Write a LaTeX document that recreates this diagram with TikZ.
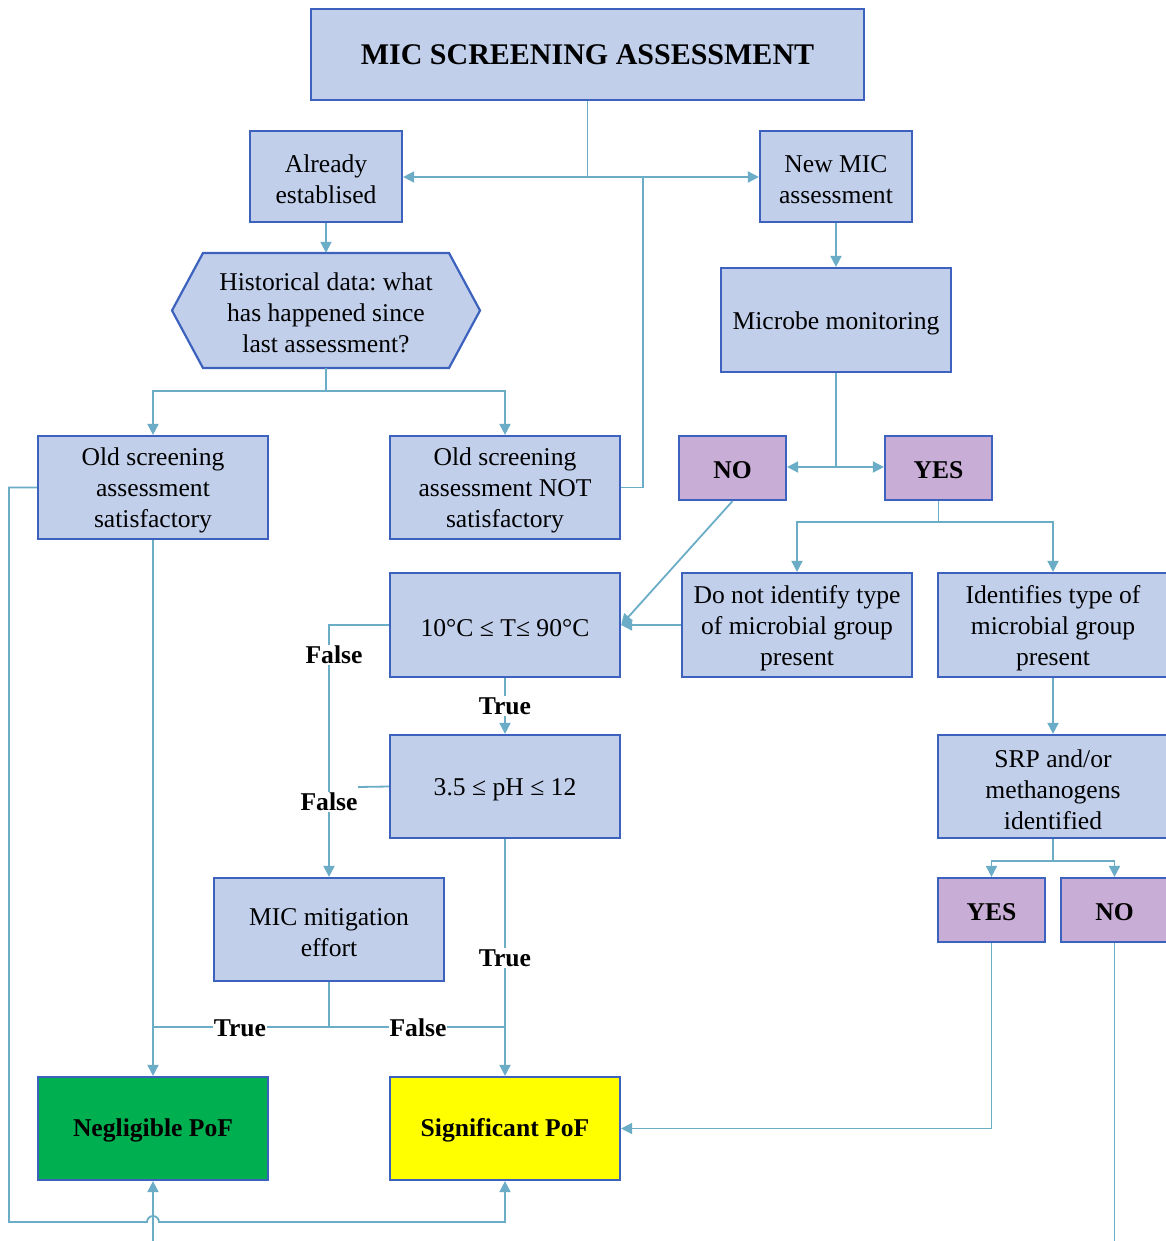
\documentclass[tikz,border=0pt]{standalone}
\usepackage{fontspec}
\setmainfont{Liberation Serif}
\frenchspacing
\usetikzlibrary{arrows.meta,calc}
\definecolor{boxfill}{HTML}{C1CFEB}
\definecolor{boxline}{HTML}{3C62BE}
\definecolor{wire}{HTML}{6BADC7}
\definecolor{choice}{HTML}{C8AED6}
\definecolor{lowpof}{HTML}{00B050}
\definecolor{highpof}{HTML}{FFFF00}
\tikzset{
  txt/.style={font=\fontsize{25.6}{31}\selectfont},
  btxt/.style={font=\bfseries\fontsize{25.6}{31}\selectfont},
  boxtext/.style={align=center, inner sep=0pt, yshift=-3pt, txt},
  boldtext/.style={align=center, inner sep=0pt, yshift=-2pt, btxt},
  box/.style={draw=boxline, fill=boxfill, line width=2.2pt, inner sep=0pt,
    minimum width=230pt, minimum height=103pt},
  says/.style={label={[boxtext]center:{#1}}},
  shouts/.style={label={[boldtext]center:{#1}}},
  choicebox/.style={box, fill=choice, minimum width=107pt, minimum height=64pt},
  wireline/.style={draw=wire, line width=1.8pt},
  arr/.style={wireline, -{Triangle[length=11pt,width=11pt]}},
  tag/.style={fill=white, inner sep=1pt, btxt},
}
\begin{document}
\begin{tikzpicture}[x=1pt,y=-1pt]
\clip (0,0) rectangle (1166,1241);
\fill[white] (0,0) rectangle (1166,1241);

% title
\node[box, minimum width=553pt, minimum height=91pt, align=center,
  font=\bfseries\fontsize{30}{36}\selectfont] (title) at (587.5,54.5) {MIC SCREENING ASSESSMENT};

% first branch
\node[box, minimum width=152pt, minimum height=91pt, says={Already\\establised}] (already) at (326,176.5) {};
\node[box, minimum width=152pt, minimum height=91pt, says={New MIC\\assessment}] (newmic) at (836,176.5) {};

% hexagon for the historical-data question
\fill[boxfill] (172,310.5) -- (203,253) -- (449,253) -- (480,310.5) -- (449,368) -- (203,368) -- cycle;
\draw[boxline, line width=2.2pt, line join=miter] (172,310.5) -- (203,253) -- (449,253) -- (480,310.5) -- (449,368) -- (203,368) -- cycle;
\node[inner sep=0pt, minimum width=308pt, minimum height=115pt,
  label={[boxtext, yshift=1pt]center:{Historical data: what\\has happened since\\last assessment?}}]
  (hist) at (326,310.5) {};

% process boxes
\node[box, says={Old screening\\assessment\\satisfactory}] (oldsat) at (153,487.5) {};
\node[box, says={Old screening\\assessment NOT\\satisfactory}] (oldnot) at (505,487.5) {};
\node[box, minimum height=104pt, says={Microbe monitoring}] (microbe) at (836,320) {};
\node[choicebox, shouts={NO}] (no1) at (732.5,468) {};
\node[choicebox, shouts={YES}] (yes1) at (938.5,468) {};
\node[box, minimum height=104pt, says={10°C ≤ T≤ 90°C}] (temp) at (505,625) {};
\node[box, minimum height=104pt, says={Do not identify type\\of microbial group\\present}] (notype) at (797,625) {};
\node[box, minimum height=104pt, says={Identifies type of\\microbial group\\present}] (istype) at (1053,625) {};
\node[box, says={3.5 ≤ pH ≤ 12}] (ph) at (505,786.5) {};
\node[box, says={SRP and/or\\methanogens\\identified}] (srp) at (1053,786.5) {};
\node[choicebox, shouts={YES}] (yes2) at (991.5,910) {};
\node[choicebox, shouts={NO}] (no2) at (1114.5,910) {};
\node[box, says={MIC mitigation\\effort}] (mitig) at (329,929.5) {};

% outcomes
\node[box, fill=lowpof, shouts={Negligible PoF}] (negl) at (153,1128.5) {};
\node[box, fill=highpof, shouts={Significant PoF}] (signif) at (505,1128.5) {};

% junction points
\coordinate (jtop) at (587.5,177);
\coordinate (jside) at (643,177);
\coordinate (jhist) at (326,391);
\coordinate (jmic) at (836,467);
\coordinate (jyes) at (938.5,522);
\coordinate (jfalse) at (329,625);
\coordinate (phend) at (358,787);
\coordinate (jmit) at (329,1027);
\coordinate (jsrp) at (1053,861);
\coordinate (lowexit) at (1114.5,1241);
\coordinate (lowentry) at (153,1241);
\coordinate (hop) at (153,1222);

% connectors
\draw[wireline] (title.south) -- (jtop);
\draw[arr] (jtop) -- (jtop -| already.east);
\draw[arr] (jtop) -- (jtop -| newmic.west);
\draw[wireline] (jside) -- (jside |- oldnot.east) -- (oldnot.east);
\draw[arr] (already.south) -- (hist.north -| already.south);
\draw[wireline] (hist.south) -- (jhist);
\draw[arr] (jhist) -| (oldsat.north);
\draw[arr] (jhist) -| (oldnot.north);
\draw[arr] (newmic.south) -- (microbe.north);
\draw[wireline] (microbe.south) -- (jmic);
\draw[arr] (jmic) -- (jmic -| no1.east);
\draw[arr] (jmic) -- (jmic -| yes1.west);
\draw[wireline] (yes1.south) -- (jyes);
\draw[arr] (jyes) -| (notype.north);
\draw[arr] (jyes) -| (istype.north);
\draw[arr] (no1.south) -- (temp.east);
\draw[arr] (notype.west) -- (temp.east);
\draw[arr] (temp.south) -- (ph.north);
\draw[arr] (temp.west) -- (jfalse) -- (jfalse |- mitig.north);
\draw[wireline] (ph.west) -- (phend);
\draw[arr] (ph.south) -- (signif.north);
\draw[arr] (oldsat.south) -- (negl.north);
\draw[wireline] (mitig.south) -- (jmit);
\draw[wireline] (jmit) -- (jmit -| negl.north);
\draw[wireline] (jmit) -- (jmit -| signif.north);
\draw[arr] (istype.south) -- (srp.north);
\draw[wireline] (srp.south) -- (jsrp);
\draw[arr] (jsrp) -| (yes2.north);
\draw[arr] (jsrp) -| (no2.north);
\draw[arr] (yes2.south) |- (signif.east);
\draw[wireline] (no2.south) -- (lowexit);
\draw[arr] (oldsat.west) -- ++(-28,0) |- ($(hop)+(-6,0)$)
  arc[start angle=180, end angle=0, radius=6pt] -| (signif.south);
\draw[arr] (lowentry) -- (negl.south);

% branch labels
\node[tag] (t1) at (505,706) {True};
\node[tag] (f1) at (334,655) {False};
\node[tag] (f2) at (329,802) {False};
\node[tag] (t2) at (505,958) {True};
\node[tag] (t3) at (240,1028) {True};
\node[tag] (f3) at (418,1028) {False};
\end{tikzpicture}
\end{document}
